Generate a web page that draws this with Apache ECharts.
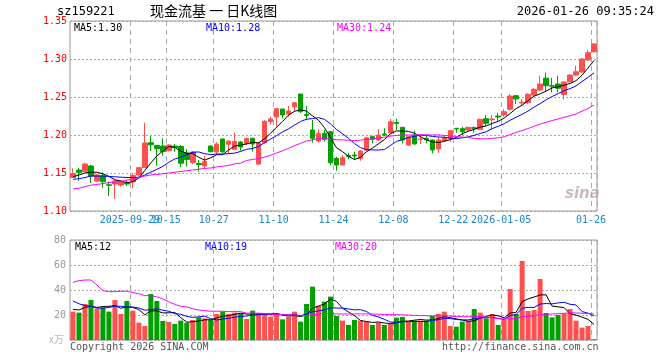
<!DOCTYPE html>
<html><head><meta charset="utf-8">
<script src="https://cdn.jsdelivr.net/npm/echarts@6/dist/echarts.min.js"></script>
<style>html,body{margin:0;padding:0;background:#fff}#c{width:660px;height:360px}</style>
</head><body><div id="c"></div>
<script>
// ---------- data ----------
const dates = ['2025-09-15','2025-09-16','2025-09-17','2025-09-18','2025-09-19','2025-09-22','2025-09-23','2025-09-24','2025-09-25','2025-09-26',
'2025-09-29','2025-09-30','2025-10-09','2025-10-10','2025-10-13','2025-10-14','2025-10-15','2025-10-16','2025-10-17','2025-10-20',
'2025-10-21','2025-10-22','2025-10-23','2025-10-24','2025-10-27','2025-10-28','2025-10-29','2025-10-30','2025-10-31','2025-11-03',
'2025-11-04','2025-11-05','2025-11-06','2025-11-07','2025-11-10','2025-11-11','2025-11-12','2025-11-13','2025-11-14','2025-11-17',
'2025-11-18','2025-11-19','2025-11-20','2025-11-21','2025-11-24','2025-11-25','2025-11-26','2025-11-27','2025-11-28','2025-12-01',
'2025-12-02','2025-12-03','2025-12-04','2025-12-05','2025-12-08','2025-12-09','2025-12-10','2025-12-11','2025-12-12','2025-12-15',
'2025-12-16','2025-12-17','2025-12-18','2025-12-19','2025-12-22','2025-12-23','2025-12-24','2025-12-25','2025-12-26','2025-12-29',
'2025-12-30','2025-12-31','2026-01-05','2026-01-06','2026-01-07','2026-01-08','2026-01-09','2026-01-12','2026-01-13','2026-01-14',
'2026-01-15','2026-01-16','2026-01-19','2026-01-20','2026-01-21','2026-01-22','2026-01-23','2026-01-26'];

const openP = [1.1441,1.1539,1.1517,1.1592,1.1395,1.1461,1.1346,1.1355,1.1342,1.1368,
1.1382,1.1474,1.1572,1.1899,1.1864,1.1855,1.1796,1.1855,1.1849,1.1763,
1.1638,1.1625,1.1592,1.1855,1.1776,1.1947,1.1878,1.1809,1.1908,1.1888,
1.1957,1.1618,1.1901,1.2178,1.2237,1.2342,1.2276,1.2372,1.2539,1.2270,
1.2066,1.1921,1.2022,1.2043,1.1693,1.1605,1.1730,1.1737,1.1693,1.1803,
1.1978,1.1934,1.2013,1.2030,1.2164,1.2101,1.1868,1.2000,1.1943,1.1957,
1.1934,1.1816,1.1925,1.1957,1.2088,1.2083,1.2066,1.2096,1.2075,1.2214,
1.2201,1.2250,1.2263,1.2338,1.2517,1.2421,1.2425,1.2526,1.2592,1.2746,
1.2649,1.2671,1.2533,1.2701,1.2789,1.2829,1.2987,1.3096];
const closeP = [1.1493,1.1504,1.1618,1.1461,1.1474,1.1386,1.1338,1.1395,1.1382,1.1355,
1.1467,1.1570,1.1895,1.1872,1.1820,1.1783,1.1868,1.1836,1.1628,1.1678,
1.1776,1.1612,1.1654,1.1780,1.1882,1.1780,1.1921,1.1914,1.1842,1.1954,
1.1882,1.1895,1.2180,1.2211,1.2346,1.2263,1.2316,1.2425,1.2307,1.2257,
1.1957,1.2022,1.1943,1.1636,1.1605,1.1701,1.1717,1.1724,1.1789,1.1964,
1.1943,1.2000,1.2000,1.2175,1.2151,1.1934,1.1978,1.1882,1.1947,1.1938,
1.1803,1.1934,1.1964,1.2057,1.2079,1.2043,1.2101,1.2088,1.2207,1.2154,
1.2211,1.2237,1.2307,1.2513,1.2474,1.2430,1.2536,1.2601,1.2671,1.2649,
1.2641,1.2615,1.2697,1.2789,1.2833,1.3000,1.3083,1.3197];
const lowP = [1.1434,1.1399,1.1513,1.1368,1.1382,1.1307,1.1197,1.1158,1.1320,1.1329,
1.1299,1.1467,1.1566,1.1789,1.1596,1.1724,1.1783,1.1780,1.1579,1.1586,
1.1618,1.1517,1.1553,1.1772,1.1737,1.1763,1.1763,1.1803,1.1793,1.1868,
1.1780,1.1605,1.1882,1.2141,1.2109,1.2220,1.2241,1.2307,1.2289,1.2197,
1.1899,1.1899,1.1912,1.1605,1.1530,1.1601,1.1680,1.1671,1.1662,1.1793,
1.1891,1.1921,1.1987,1.2013,1.2066,1.1891,1.1855,1.1875,1.1882,1.1891,
1.1759,1.1767,1.1912,1.1912,1.2030,1.2000,1.2043,1.2030,1.2066,1.2118,
1.2066,1.2175,1.2241,1.2320,1.2408,1.2382,1.2404,1.2504,1.2579,1.2579,
1.2562,1.2562,1.2467,1.2688,1.2776,1.2816,1.2974,1.3083];
const highP = [1.1562,1.1570,1.1636,1.1605,1.1487,1.1509,1.1386,1.1408,1.1408,1.1408,
1.1496,1.1579,1.2162,1.1987,1.1868,1.1957,1.1878,1.1882,1.1868,1.1816,
1.1789,1.1671,1.1724,1.1862,1.1904,1.1954,1.1925,1.2033,1.1921,1.1970,
1.1964,1.1905,1.2197,1.2241,1.2359,1.2342,1.2382,1.2438,1.2539,1.2382,
1.2197,1.2075,1.2066,1.2053,1.1714,1.1737,1.1767,1.1780,1.1803,1.1978,
1.1991,1.2075,1.2088,1.2211,1.2211,1.2105,1.1987,1.2057,1.1987,1.1987,
1.1941,1.1970,1.1991,1.2066,1.2092,1.2109,1.2109,1.2114,1.2214,1.2263,
1.2263,1.2293,1.2338,1.2539,1.2526,1.2474,1.2549,1.2622,1.2780,1.2820,
1.2754,1.2780,1.2701,1.2799,1.2912,1.3013,1.3118,1.3207];
// volume (万)
const volume = [22.7,21.9,28.8,32,25.1,26.1,22.7,32,20.8,31.2,
23.5,13.9,11.2,36.8,31.2,15.2,14.4,12.8,15.5,13.9,
16,18.1,17.3,16,20.8,22.7,20.8,21.9,21.3,16.8,
23.5,21.3,21.6,18.7,20.8,16.5,18.7,22.7,14.7,28.8,
42.7,27.2,30.7,34.7,19.2,15.5,12,16,15.5,14.7,
12,13.9,12,12.8,17.9,18.4,14.7,15.5,15.5,15.5,
19.2,20.8,22.7,11.2,10.7,14.7,15.5,24.8,21.9,17.3,
20.8,12,16.5,40.8,20.8,63.2,23.2,24,48.8,21.6,
18.1,20,21.3,24.8,15.5,9.9,11.2,0.8];
// moving-average values before enough history exists
const ma5Lead = [1.1451,1.1474,1.1500,1.1510];
const ma10Lead = [1.1417,1.1425,1.1440,1.1460,1.1460,1.1460,1.1455,1.1450,1.1445];
const ma30Lead = [1.129,1.130,1.132,1.134,1.135,1.136,1.1375,1.138,1.139,1.1405,
1.142,1.144,1.146,1.1474,1.148,1.149,1.150,1.151,1.152,1.153,
1.154,1.155,1.156,1.1566,1.158,1.159,1.160,1.162,1.163];
const vma5Lead = [24.5,24,26,27];
const vma10Lead = [31.2,29,27.5,27,25.5,25.5,26,27,27];
const vma30Lead = [46.1,47.5,48,48,44,39.5,38.7,38.7,39,39,38,37,35.5,35.5,34.5,33,30.5,28.5,27,26.5,25,24,23.5,23,23,23,22.7,22.7,22.7];
const tickIdx = [10,16,24,34,44,54,64,72,87];
const tickLabels = ['2025-09-29','10-15','10-27','11-10','11-24','12-08','12-22','2026-01-05','01-26'];
const priceLegend = ['MA5:1.30','MA10:1.28','MA30:1.24'];
const volLegend = ['MA5:12','MA10:19','MA30:20'];
const code = 'sz159221';
const titleText = '现金流基 一 日K线图';
const timeText = '2026-01-26 09:35:24';

// ---------- helpers ----------
function ma(arr, n, lead){
  return arr.map((v,i)=>{
    if(i < n-1) return lead[i];
    let s=0; for(let k=i-n+1;k<=i;k++) s+=arr[k];
    return +(s/n).toFixed(4);
  });
}
const candle = dates.map((d,i)=>[openP[i],closeP[i],lowP[i],highP[i]]);
const UP='#ff5050', DOWN='#00a000';
const MONO='"DejaVu Sans Mono", "Liberation Mono", monospace';
const tickSet = new Set(tickIdx);
const isTick = (i)=>tickSet.has(i);
// labels are split over two overlaid axes so that touching labels are both drawn
const labelSetA = new Set(tickIdx.filter((v,k)=>k!==1));
const labelSetB = new Set([tickIdx[1]]);

const chart = echarts.init(document.getElementById('c'), null, {renderer:'canvas'});
const gridBase = {left:70, width:527, show:true, borderColor:'#999', borderWidth:1, backgroundColor:'transparent'};
const xBase = (gi, labelSet, splits)=>({
  type:'category', gridIndex:gi, data:dates, boundaryGap:true, position:'bottom', offset:0,
  axisLine:{show:false}, axisTick:{show:false},
  axisLabel:{show:!!labelSet, interval:(i)=>!!labelSet && labelSet.has(i), hideOverlap:false, showMinLabel:true, showMaxLabel:true,
    color:'#1a86d0', fontFamily:MONO, fontSize:10, margin:4,
    padding:[0,6,0,0],
    formatter:(v,i)=>{const k=tickIdx.indexOf(i); return k>=0?tickLabels[k]:'';}},
  splitLine:{show:splits, interval:(i)=>isTick(i), lineStyle:{color:'#aaa', type:[5,4], width:1}}
});
const lineS = (name, xi, yi, data, color)=>({name, type:'line', xAxisIndex:xi, yAxisIndex:yi, data, symbol:'none',
  lineStyle:{color, width:1}, itemStyle:{color}, silent:true, z:5});

const option = {
  animation:false,
  grid:[Object.assign({top:21, height:190}, gridBase), Object.assign({top:240, height:100}, gridBase)],
  xAxis:[xBase(0,labelSetA,true), xBase(1,null,true), xBase(0,labelSetB,false)],
  yAxis:[
    {type:'value', gridIndex:0, min:1.10, max:1.35, interval:0.05, axisLine:{show:false}, axisTick:{show:false},
     axisLabel:{color:'#ff0000', fontFamily:MONO, fontSize:10, margin:3, formatter:(v)=>v.toFixed(2)},
     splitLine:{show:true, lineStyle:{color:'#aaa', type:[2,2]}}},
    {type:'value', gridIndex:1, min:0, max:80, interval:20, axisLine:{show:false}, axisTick:{show:false},
     axisLabel:{color:'#999', fontFamily:MONO, fontSize:10, margin:4, formatter:(v)=>v===0?'':String(v)},
     splitLine:{show:true, lineStyle:{color:'#aaa', type:[2,2]}}}
  ],
  series:[
    {type:'candlestick', xAxisIndex:0, yAxisIndex:0, data:candle, barWidth:5,
     itemStyle:{color:UP, color0:DOWN, borderColor:UP, borderColor0:DOWN, borderWidth:1}},
    lineS('MA5',0,0,ma(closeP,5,ma5Lead),'#000'),
    lineS('MA10',0,0,ma(closeP,10,ma10Lead),'#0000ff'),
    lineS('MA30',0,0,ma(closeP,30,ma30Lead),'#ff00ff'),
    {type:'bar', xAxisIndex:1, yAxisIndex:1, barWidth:5,
     data:volume.map((v,i)=>({value:v, itemStyle:{color: closeP[i]>=openP[i]?UP:DOWN}}))},
    lineS('VMA5',1,1,ma(volume,5,vma5Lead),'#000'),
    lineS('VMA10',1,1,ma(volume,10,vma10Lead),'#0000ff'),
    lineS('VMA30',1,1,ma(volume,30,vma30Lead),'#ff00ff')
  ],
  graphic:[
    {type:'text', left:57, top:6, style:{text:code, fill:'#000', font:'12px '+MONO}},
    {type:'text', left:150, top:4, style:{text:titleText, fill:'#000', font:'14px "Noto Sans CJK SC", sans-serif'}},
    {type:'text', right:6, top:6, style:{text:timeText, fill:'#000', font:'12px '+MONO}},
    {type:'text', left:74, top:23, style:{text:priceLegend[0], fill:'#000', font:'10px '+MONO}},
    {type:'text', left:206, top:23, style:{text:priceLegend[1], fill:'#0000ff', font:'10px '+MONO}},
    {type:'text', left:337, top:23, style:{text:priceLegend[2], fill:'#ff00ff', font:'10px '+MONO}},
    {type:'text', left:75, top:242, style:{text:volLegend[0], fill:'#000', font:'10px '+MONO}},
    {type:'text', left:205, top:242, style:{text:volLegend[1], fill:'#0000ff', font:'10px '+MONO}},
    {type:'text', left:335, top:242, style:{text:volLegend[2], fill:'#ff00ff', font:'10px '+MONO}},
    {type:'text', left:49, top:334, style:{text:'x万', fill:'#bbb', font:'10px "Noto Sans CJK SC", sans-serif'}},
    {type:'text', left:70, top:342, style:{text:'Copyright 2026 SINA.COM', fill:'#555', font:'10px '+MONO}},
    {type:'text', left:442, top:342, style:{text:'http://finance.sina.com.cn', fill:'#555', font:'10px '+MONO}},
    {type:'text', left:565, top:187, style:{text:'sina', fill:'rgba(190,170,170,0.8)', font:'italic bold 15px "DejaVu Sans", sans-serif'}}
  ]
};
chart.setOption(option);
</script></body></html>
